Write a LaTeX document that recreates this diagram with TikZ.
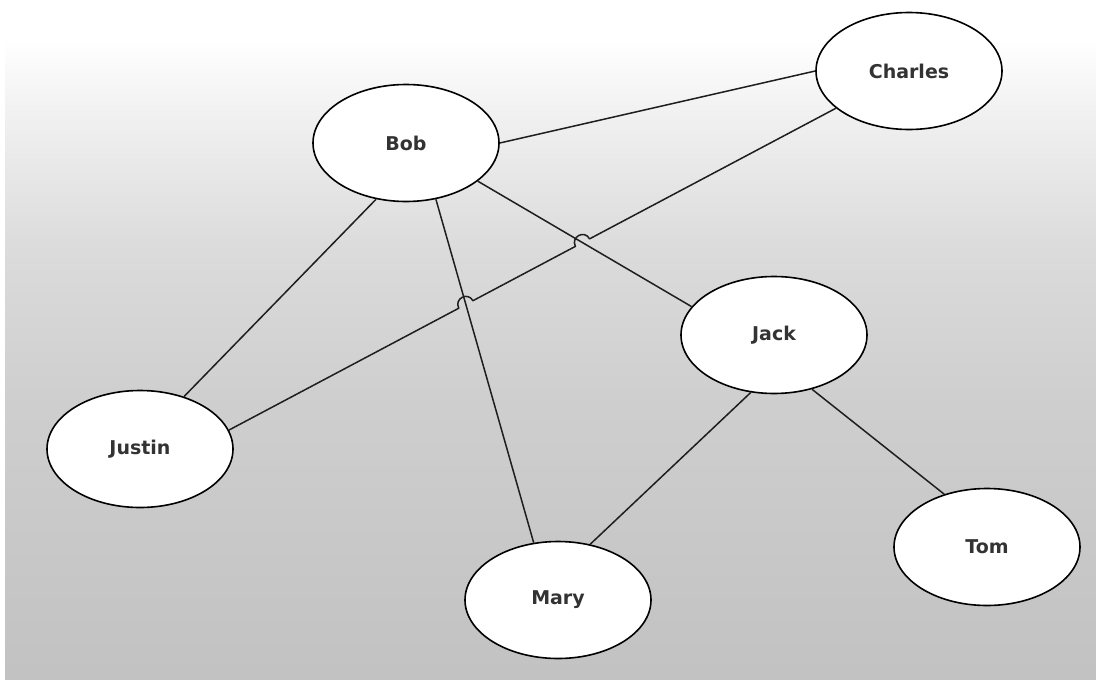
\documentclass[tikz,border=0pt]{standalone}
\usepackage{fontspec}
\setmainfont{DejaVu Sans}
\usetikzlibrary{shapes.geometric,calc,intersections}
\definecolor{labelgray}{HTML}{333333}
\definecolor{edgegray}{HTML}{1E1E1E}
\pgfdeclareverticalshading{paperbg}{100bp}{%
  color(0bp)=(gray!48); color(25bp)=(gray!48); color(45.7bp)=(gray!38);
  color(56.7bp)=(gray!28); color(66.2bp)=(gray!12); color(72.1bp)=(white);
  color(100bp)=(white)}
\tikzset{
  person/.style={ellipse, draw=black, line width=1.6pt, fill=white,
    minimum width=186pt, minimum height=117pt, inner sep=0pt,
    font=\fontsize{19}{22}\selectfont\bfseries, text=labelgray},
  link/.style={draw=edgegray, line width=1.5pt},
}
\begin{document}
\begin{tikzpicture}[x=1pt,y=-1pt]
  \useasboundingbox (0,0) rectangle (1096,683);
  \fill[white] (0,0) rectangle (1096,683);
  \shade[shading=paperbg] (5,0) rectangle (1096,679);

  \node[person] (bob)     at (406,143) {Bob};
  \node[person] (charles) at (909,71)  {Charles};
  \node[person] (jack)    at (774,335) {Jack};
  \node[person] (justin)  at (140,449) {Justin};
  \node[person] (mary)    at (558,600) {Mary};
  \node[person] (tom)     at (987,547) {Tom};

  \draw[link] (bob.east) -- (charles.west);
  \draw[link, name path=bj] (bob.332) -- (jack.161);
  \draw[link] (bob.242) -- (justin.50);
  \draw[link, name path=bm] (bob.298) -- (mary.113);
  \draw[link] (jack.248) -- (mary.60);
  \draw[link] (jack.305) -- (tom.129);

  \path[name path=cj] (charles.207) -- (justin.12);
  \path[name intersections={of=cj and bj, name=ia}];
  \path[name intersections={of=cj and bm, name=ib}];
  \coordinate (a1) at ($(ia-1)!8pt!(charles.207)$);
  \coordinate (a2) at ($(ia-1)!8pt!(justin.12)$);
  \coordinate (b1) at ($(ib-1)!8pt!(charles.207)$);
  \coordinate (b2) at ($(ib-1)!8pt!(justin.12)$);
  \draw[link, line join=round] (charles.207) -- (a1)
    .. controls ($(a1)!10.7pt!-90:(a2)$) and ($(a2)!10.7pt!90:(a1)$) .. (a2)
    -- (b1)
    .. controls ($(b1)!10.7pt!-90:(b2)$) and ($(b2)!10.7pt!90:(b1)$) .. (b2)
    -- (justin.12);
\end{tikzpicture}
\end{document}
